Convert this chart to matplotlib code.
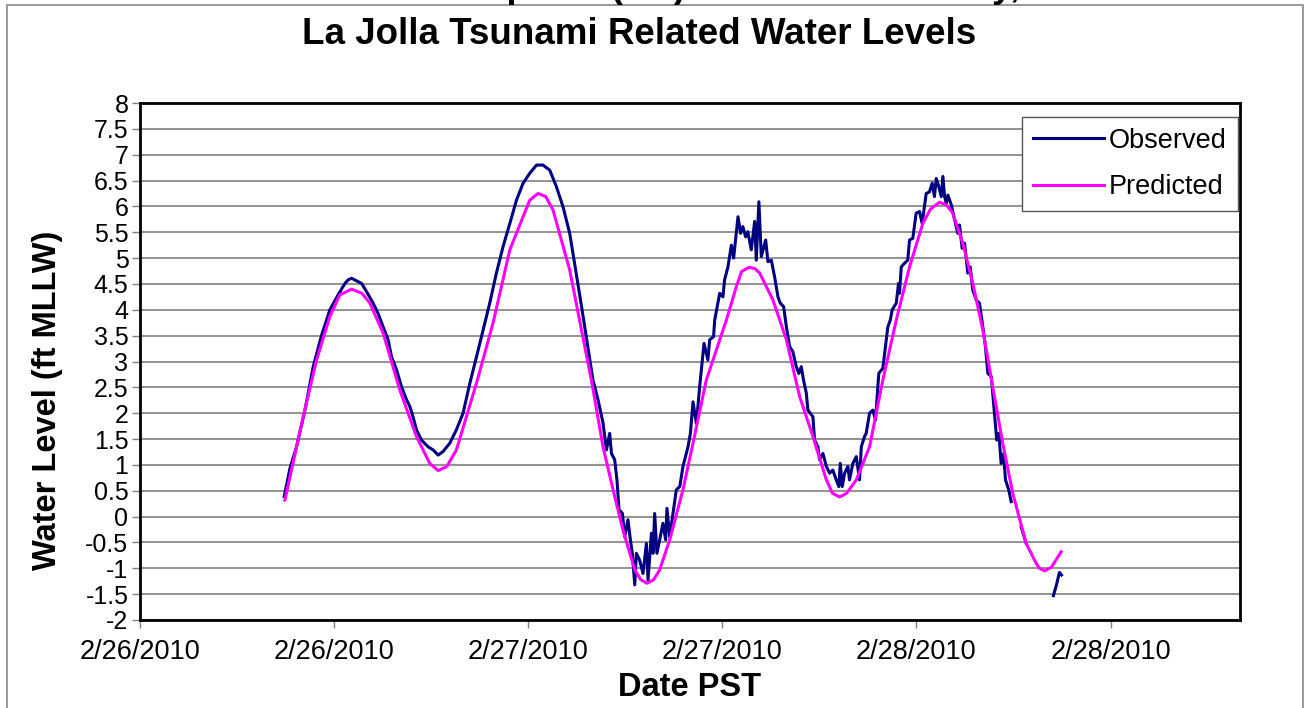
import matplotlib
matplotlib.use("Agg")
import matplotlib.pyplot as plt
import numpy as np
from matplotlib.patches import Rectangle

# hours since 2/26/2010 00:00 PST, water level ft MLLW
pred_hours = [8.98, 10.11, 10.94, 11.76, 12.38, 13.10, 13.74, 14.23, 15.05, 16.08,
              17.11, 17.93, 18.45, 18.99, 19.58, 20.82, 21.84, 22.88, 23.70, 24.11,
              24.62, 25.10, 25.55, 26.58, 27.92, 28.64, 29.26, 29.87, 30.60, 30.97,
              31.36, 31.77, 32.14, 32.76, 33.58, 34.20, 35.02, 36.26, 36.88, 37.20,
              37.65, 38.01, 38.32, 39.14, 39.97, 40.79, 41.61, 42.44, 42.82, 43.26,
              43.69, 44.29, 45.11, 45.93, 46.76, 47.58, 48.40, 48.88, 49.43, 49.86,
              50.25, 50.87, 51.49, 52.11, 52.72, 53.34, 53.96, 54.79, 55.40, 55.61,
              55.92, 56.35, 56.95]
pred_level = [0.32, 1.93, 3.03, 3.87, 4.29, 4.40, 4.32, 4.13, 3.55, 2.45,
              1.55, 1.03, 0.89, 0.97, 1.29, 2.58, 3.74, 5.16, 5.80, 6.12,
              6.25, 6.19, 5.93, 4.77, 2.64, 1.35, 0.52, -0.26, -1.03, -1.22,
              -1.29, -1.22, -1.03, -0.45, 0.52, 1.42, 2.64, 3.80, 4.45, 4.74,
              4.82, 4.80, 4.71, 4.19, 3.42, 2.32, 1.55, 0.71, 0.45, 0.38,
              0.45, 0.71, 1.35, 2.64, 3.80, 4.83, 5.67, 5.95, 6.08, 6.03,
              5.87, 5.29, 4.51, 3.61, 2.51, 1.42, 0.45, -0.52, -0.90, -1.00,
              -1.05, -0.98, -0.68]

obs_hours = [8.94, 9.29, 9.70, 10.22, 10.73, 11.25, 11.76, 12.27, 12.69, 12.89,
             13.10, 13.41, 13.72, 14.03, 14.43, 14.74, 15.05, 15.36, 15.57, 15.88,
             16.19, 16.50, 16.70, 16.90, 17.11, 17.42, 17.83, 18.14, 18.45, 18.76,
             19.17, 19.58, 19.99, 20.41, 20.82, 21.23, 21.64, 22.05, 22.46, 22.88,
             23.29, 23.70, 24.11, 24.53, 24.93, 25.35, 25.76, 26.17, 26.58, 27.32,
             28.02, 28.33, 28.64, 28.85, 29.05, 29.16, 29.36, 29.50, 29.63, 29.84,
             29.98, 30.18, 30.33, 30.45, 30.60, 30.70, 30.90, 31.11, 31.32, 31.42,
             31.63, 31.73, 31.83, 31.97, 32.14, 32.34, 32.51, 32.59, 32.76, 32.96,
             33.17, 33.38, 33.58, 33.89, 34.04, 34.20, 34.41, 34.61, 34.88, 35.12,
             35.23, 35.47, 35.54, 35.85, 36.05, 36.15, 36.36, 36.57, 36.71, 36.98,
             37.14, 37.28, 37.45, 37.59, 37.80, 38.01, 38.11, 38.27, 38.42, 38.69,
             38.83, 39.04, 39.24, 39.45, 39.59, 39.80, 39.97, 40.17, 40.37, 40.58,
             40.74, 40.89, 41.03, 41.20, 41.30, 41.61, 41.71, 41.92, 42.02, 42.23,
             42.44, 42.64, 42.84, 43.05, 43.21, 43.30, 43.42, 43.57, 43.77, 43.87,
             44.08, 44.29, 44.49, 44.60, 44.80, 44.90, 45.11, 45.31, 45.48, 45.68,
             45.93, 46.24, 46.39, 46.51, 46.76, 46.90, 46.96, 47.07, 47.27, 47.47,
             47.58, 47.78, 47.99, 48.20, 48.36, 48.61, 48.81, 48.98, 49.12, 49.23,
             49.39, 49.54, 49.64, 49.74, 49.85, 49.95, 50.16, 50.36, 50.56, 50.67,
             50.83, 50.98, 51.18, 51.33, 51.49, 51.70, 51.90, 52.11, 52.27, 52.42,
             52.63, 52.83, 52.97, 53.10, 53.24, 53.39, 53.51, 53.71, 53.86, 54.10,
             54.48, 54.79, 55.50, 56.47, 56.66, 56.84, 56.97]
obs_level = [0.39, 0.93, 1.35, 2.06, 2.90, 3.51, 4.00, 4.29, 4.51, 4.58,
             4.61, 4.56, 4.51, 4.35, 4.13, 3.93, 3.67, 3.42, 3.09, 2.84,
             2.51, 2.26, 2.13, 1.93, 1.68, 1.48, 1.35, 1.29, 1.19, 1.26,
             1.42, 1.68, 2.00, 2.58, 3.09, 3.61, 4.13, 4.71, 5.22, 5.67,
             6.12, 6.45, 6.64, 6.80, 6.80, 6.70, 6.38, 5.99, 5.48, 4.05,
             2.64, 2.26, 1.81, 1.29, 1.61, 1.22, 1.10, 0.71, 0.13, 0.06,
             -0.39, -0.06, -0.45, -0.71, -1.32, -0.71, -0.84, -1.10, -0.52, -1.23,
             -0.32, -0.71, 0.06, -0.71, -0.45, -0.13, -0.45, 0.16, -0.39, 0.06,
             0.52, 0.58, 0.97, 1.35, 1.61, 2.22, 1.80, 2.51, 3.35, 3.03,
             3.42, 3.48, 3.80, 4.32, 4.25, 4.58, 4.83, 5.25, 5.00, 5.80,
             5.48, 5.61, 5.41, 5.51, 5.16, 5.71, 4.96, 6.09, 5.03, 5.35,
             4.93, 4.96, 4.64, 4.25, 4.13, 4.06, 3.67, 3.29, 3.19, 2.90,
             2.77, 2.90, 2.64, 2.39, 2.06, 1.93, 1.48, 1.35, 1.10, 1.22,
             0.97, 0.84, 0.90, 0.71, 0.58, 1.03, 0.58, 0.84, 0.97, 0.71,
             1.03, 1.16, 0.71, 1.35, 1.55, 1.61, 2.00, 2.06, 1.87, 2.77,
             2.87, 3.67, 3.80, 4.00, 4.13, 4.51, 4.32, 4.83, 4.90, 4.96,
             5.35, 5.38, 5.87, 5.90, 5.67, 6.25, 6.28, 6.45, 6.19, 6.54,
             6.38, 6.19, 6.58, 6.20, 6.06, 6.22, 6.03, 5.75, 5.48, 5.64,
             5.19, 5.29, 4.71, 4.83, 4.38, 4.19, 4.13, 3.67, 3.29, 2.77,
             2.71, 2.00, 1.48, 1.61, 1.03, 1.22, 0.71, 0.52, 0.29, np.nan,
             -0.20, -0.52, np.nan, -1.53, -1.32, -1.08, -1.13]

x_tick_hours = [0, 12, 24, 36, 48, 60]
x_tick_labels = ["2/26/2010", "2/26/2010", "2/27/2010", "2/27/2010", "2/28/2010", "2/28/2010"]
y_ticks = [-2, -1.5, -1, -0.5, 0, 0.5, 1, 1.5, 2, 2.5, 3, 3.5, 4, 4.5, 5, 5.5, 6, 6.5, 7, 7.5, 8]

plt.rcParams['font.family'] = ['Liberation Sans', 'DejaVu Sans']

fig = plt.figure(figsize=(13.08, 7.08), dpi=100)
ax = fig.add_axes([0.1067, 0.1243, 0.8413, 0.7302])

# outer chart border
fig.patches.append(Rectangle((7 / 1308, -0.01), 1296 / 1308, 1 - 5 / 708 + 0.01,
                             transform=fig.transFigure, fill=False,
                             edgecolor='#888888', linewidth=1.2))

ax.plot(obs_hours, obs_level, color='#000080', lw=2.2, label='Observed')
ax.plot(pred_hours, pred_level, color='#FF00FF', lw=2.2, label='Predicted')

ax.set_xlim(0, 68)
ax.set_ylim(-2, 8)
ax.set_yticks(y_ticks)
ax.set_yticklabels([f"{v:g}" for v in y_ticks])
ax.set_xticks(x_tick_hours)
ax.set_xticklabels(x_tick_labels)
ax.tick_params(axis='both', length=6, width=1, color='#808080', direction='out')
ax.tick_params(axis='y', pad=2, labelsize=18)
ax.tick_params(axis='x', pad=8, labelsize=19.5)
ax.yaxis.grid(True, color='#808080', lw=1.2)
ax.set_axisbelow(True)
for sp in ax.spines.values():
    sp.set_linewidth(2.0)
    sp.set_color('black')

ax.set_ylabel('Water Level (ft MLLW)', fontsize=23.5, fontweight='bold')
ax.yaxis.set_label_coords(-0.084, 0.424)
ax.set_xlabel('Date PST', fontsize=23.5, fontweight='bold')
ax.xaxis.set_label_coords(0.5, -0.1315)
ax.xaxis.label.set_va('center')
ax.yaxis.label.set_va('center')

fig.text(639 / 1308, 1 - 35 / 708, 'La Jolla Tsunami Related Water Levels',
         ha='center', va='center', fontsize=26.5, fontweight='bold')
# first title line, mostly cut off at the top of the image
fig.text(660 / 1308, 1 + 3 / 708, 'Chile Earthquake (8.8) Tsunami Saturday,',
         ha='center', va='baseline', fontsize=26.5, fontweight='bold')

leg = ax.legend(loc='upper right', bbox_to_anchor=(0.998, 0.973), borderaxespad=0,
                fontsize=19.5, frameon=True, fancybox=False, framealpha=1,
                edgecolor='#555555', handlelength=2.6, handletextpad=0.2,
                labelspacing=0.75, borderpad=0.4)
leg.get_frame().set_linewidth(1.0)

fig.savefig('out.png', dpi=100)
